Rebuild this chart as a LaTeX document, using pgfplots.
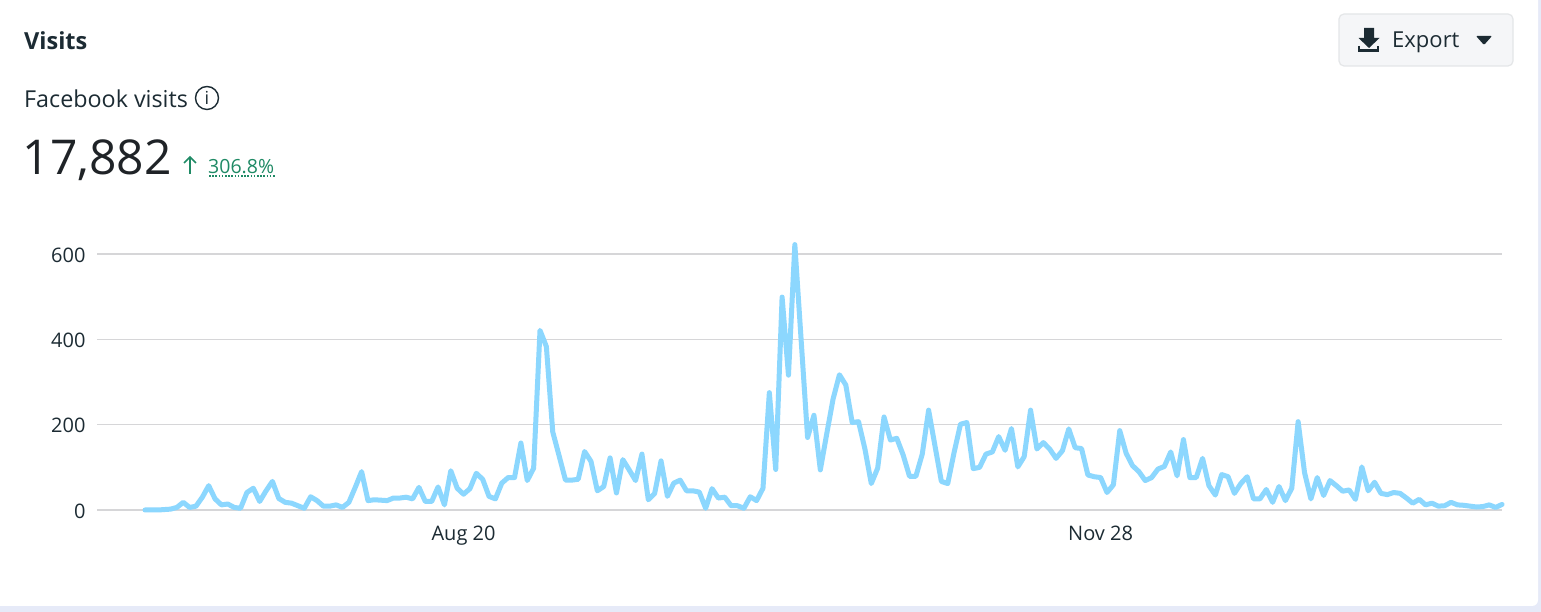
\documentclass[border=0pt]{standalone}
\usepackage{pgfplots}
\pgfplotsset{compat=1.18}
\usepackage{pgfplotstable}
\usepackage{fontspec}
\setmainfont{Open Sans}
\definecolor{ink}{HTML}{1C2B33}
\definecolor{num}{HTML}{1F2327}
\definecolor{grn}{HTML}{1F8A65}
\definecolor{gridc}{HTML}{D6D6D8}
\definecolor{linec}{HTML}{8CD7FE}
\definecolor{pagebg}{HTML}{E6EAF8}
\definecolor{btnbg}{HTML}{F5F6F8}
\definecolor{btnln}{HTML}{E4E6E8}
\pgfplotstableread{
i v
0 0
1 0
2 0
3 1
4 2
5 6
6 18
7 6
8 9
9 30
10 57
11 26
12 12
13 14
14 6
15 4
16 41
17 51
18 20
19 45
20 67
21 27
22 18
23 16
24 10
25 4
26 31
27 22
28 9
29 9
30 12
31 6
32 18
33 53
34 90
35 22
36 24
37 23
38 22
39 28
40 28
41 30
42 26
43 53
44 20
45 20
46 54
47 12
48 92
49 51
50 37
51 50
52 86
53 72
54 32
55 26
56 63
57 76
58 76
59 157
60 69
61 98
62 421
63 383
64 183
65 127
66 70
67 70
68 72
69 137
70 114
71 45
72 55
73 122
74 40
75 118
76 94
77 69
78 131
79 24
80 39
81 115
82 32
83 63
84 70
85 45
86 45
87 42
88 4
89 50
90 28
91 30
92 10
93 10
94 4
95 31
96 22
97 51
98 275
99 95
100 499
101 316
102 622
103 396
104 170
105 222
106 94
107 178
108 260
109 317
110 293
111 205
112 207
113 143
114 62
115 98
116 218
117 164
118 168
119 129
120 79
121 79
122 131
123 234
124 150
125 67
126 62
127 135
128 201
129 205
130 97
131 100
132 131
133 136
134 172
135 140
136 191
137 101
138 125
139 234
140 143
141 158
142 143
143 121
144 139
145 190
146 146
147 144
148 82
149 78
150 76
151 41
152 59
153 186
154 133
155 104
156 90
157 69
158 76
159 96
160 102
161 136
162 80
163 165
164 76
165 76
166 121
167 57
168 35
169 83
170 78
171 39
172 62
173 78
174 26
175 26
176 48
177 18
178 55
179 22
180 51
181 207
182 88
183 26
184 76
185 34
186 69
187 57
188 44
189 47
190 25
191 101
192 45
193 65
194 39
195 36
196 41
197 39
198 28
199 16
200 25
201 12
202 16
203 9
204 10
205 18
206 12
207 11
208 9
209 7
210 8
211 12
212 6
213 13
}\visits
\begin{document}
\begin{tikzpicture}[x=1pt,y=1pt]
\useasboundingbox (0,0) rectangle (1541,612);
\fill[pagebg] (0,0) rectangle (1541,612);
\fill[white,rounded corners=6pt] (-10,6) rectangle (1538,630);
\begin{axis}[
  at={(97pt,102pt)}, anchor=south west, scale only axis,
  width=1405pt, height=256pt,
  xmin=-7.535, xmax=213, ymin=0, ymax=600,
  clip=false,
  axis line style={draw=none}, tick style={draw=none},
  ymajorgrids, grid style={gridc,line width=1.5pt},
  ytick={0,200,400,600},
  xtick={50,150}, xticklabels={Aug 20,Nov 28},
  /pgf/number format/assume math mode=true,
  tick label style={font=\fontsize{20}{24}\selectfont,text=ink},
  yticklabel style={xshift=-8pt,yshift=-1pt},
  xticklabel style={yshift=-12pt},
]
\addplot[linec,line width=5pt,line join=round,line cap=round] table[x=i,y=v] {\visits};
\end{axis}
\begin{scope}[shift={(0,612)},y=-1pt]
\node[anchor=west,text=ink,inner sep=0pt,font=\fontsize{23.5}{28}\selectfont\bfseries] at (24,41) {Visits};
\node[anchor=west,text=ink,inner sep=0pt,font=\fontsize{23.3}{28}\selectfont] at (24,99) {Facebook visits};
\draw[ink,line width=1.4pt] (207,98) circle (11.5);
\node[text=ink,inner sep=0pt,font=\fontsize{18}{20}\selectfont] at (207,98) {i};
\node[anchor=west,text=num,inner sep=0pt,font=\fontsize{48}{58}\selectfont] at (22.5,160) {17,882};
\draw[grn,line width=1.7pt] (190,174) -- (190,157) (184,163) -- (190,157) -- (196,163);
\node[anchor=west,text=grn,inner sep=0pt,font=\fontsize{19.5}{23}\selectfont] at (208,167) {306.8\%};
\draw[grn,line width=1.6pt,dash pattern=on 1.6pt off 1.6pt] (209,176) -- (275,176);
\draw[btnln,fill=btnbg,line width=1.2pt,rounded corners=5pt] (1339,14) rectangle (1513,66);
\fill[ink] (1364,28) rectangle (1374,38) (1358.5,38) -- (1379.5,38) -- (1369,48) -- cycle;
\draw[ink,line width=2.2pt] (1359,46) -- (1359,50.5) -- (1378,50.5) -- (1378,46);
\node[anchor=west,text=ink,inner sep=0pt,font=\fontsize{22}{26}\selectfont] at (1392,42) {Export};
\fill[ink,rounded corners=1pt] (1476,36) -- (1492,36) -- (1484,45) -- cycle;
\end{scope}
\end{tikzpicture}
\end{document}
